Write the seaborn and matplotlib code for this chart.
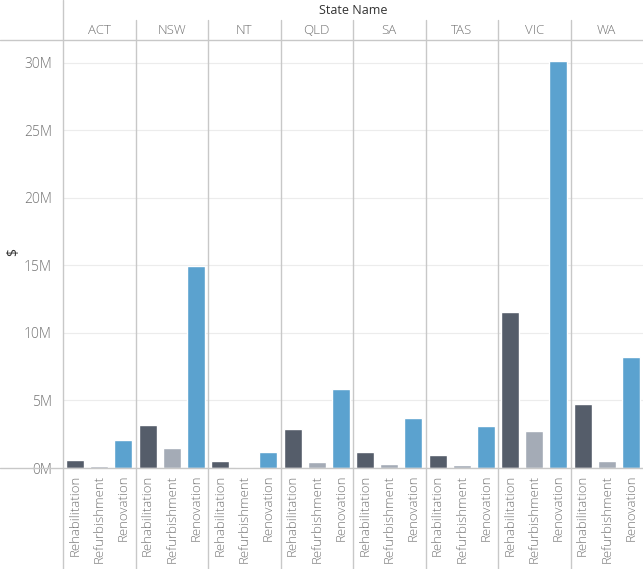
import numpy as np
import pandas as pd
import seaborn as sns
import matplotlib.pyplot as plt
from matplotlib.lines import Line2D
from matplotlib.ticker import FuncFormatter

# values, in millions of $
states = ["ACT", "NSW", "NT", "QLD", "SA", "TAS", "VIC", "WA"]
work_types = ["Rehabilitation", "Refurbishment", "Renovation"]
rehabilitation = [0.61, 3.2, 0.54, 2.9, 1.2, 0.98, 11.57, 4.76]
refurbishment = [0.17, 1.5, 0.10, 0.47, 0.32, 0.25, 2.76, 0.54]
renovation = [2.09, 14.96, 1.2, 5.87, 3.72, 3.13, 30.18, 8.24]

rows = []
for i, st in enumerate(states):
    for wt, vals in zip(work_types, [rehabilitation, refurbishment, renovation]):
        rows.append({"State Name": st, "Type": wt, "Value": vals[i]})
df = pd.DataFrame(rows)

palette = {"Rehabilitation": "#555d6a", "Refurbishment": "#a4abb6", "Renovation": "#5ba2cf"}

sns.set_style("white")
plt.rcParams["font.family"] = ["Open Sans", "DejaVu Sans"]

W, H = 643, 569
fig, axes = plt.subplots(1, 8, sharey=True, figsize=(W / 100, H / 100), dpi=100)
left, right, top, bottom = 63 / W, 1.0, 1 - 40 / H, 1 - 468 / H
fig.subplots_adjust(left=left, right=right, top=top, bottom=bottom, wspace=0)

grey_txt = "#737373"
for ax, st in zip(axes, states):
    sub = df[df["State Name"] == st]
    sns.barplot(data=sub, x="Type", y="Value", hue="Type", palette=palette,
                order=work_types, hue_order=work_types, width=0.74,
                saturation=1, legend=False, ax=ax)
    ax.set_xlim(-0.5, 2.5)
    ax.set_ylim(0, 31.7)
    ax.set_yticks([0, 5, 10, 15, 20, 25, 30])
    ax.yaxis.set_major_formatter(FuncFormatter(lambda v, p: f"{v:.0f}M"))
    ax.grid(axis="y", color="#ececec", linewidth=0.8)
    ax.set_axisbelow(True)
    for s in ax.spines.values():
        s.set_visible(False)
    ax.tick_params(axis="both", length=0, colors=grey_txt, labelsize=9.5)
    ax.tick_params(axis="x", pad=5)
    for lab in ax.get_xticklabels():
        lab.set_rotation(90)
        lab.set_va("top")
        lab.set_fontweight("light")
    for lab in ax.get_yticklabels():
        lab.set_fontweight("light")
    ax.set_xlabel("")
    ax.set_ylabel("")
    ax.set_title(st, fontsize=9.5, color=grey_txt, pad=4, fontweight="light")

axes[0].tick_params(axis="y", pad=8, labelsize=10)
fig.text(14 / W, 1 - 252 / H, "$", rotation=90, ha="center", va="center", fontsize=10, color="#333333")
fig.text((63 + 643) / 2 / W, 1 - 11 / H, "State Name", ha="center", va="center", fontsize=9, color="#333333")

line_c = "#c8c8c8"
# horizontal rules under the headers and at zero
for ypx in [40, 468]:
    fig.add_artist(Line2D([0, 1], [1 - ypx / H] * 2, transform=fig.transFigure, color=line_c, linewidth=1))
# left axis line
fig.add_artist(Line2D([left, left], [0, 1], transform=fig.transFigure, color=line_c, linewidth=1))
# panel separators
pw = (right - left) / len(states)
for k in range(1, len(states)):
    x = left + k * pw
    fig.add_artist(Line2D([x, x], [0, 1 - 20 / H], transform=fig.transFigure, color=line_c, linewidth=1))

fig.savefig("out.png", dpi=100)
